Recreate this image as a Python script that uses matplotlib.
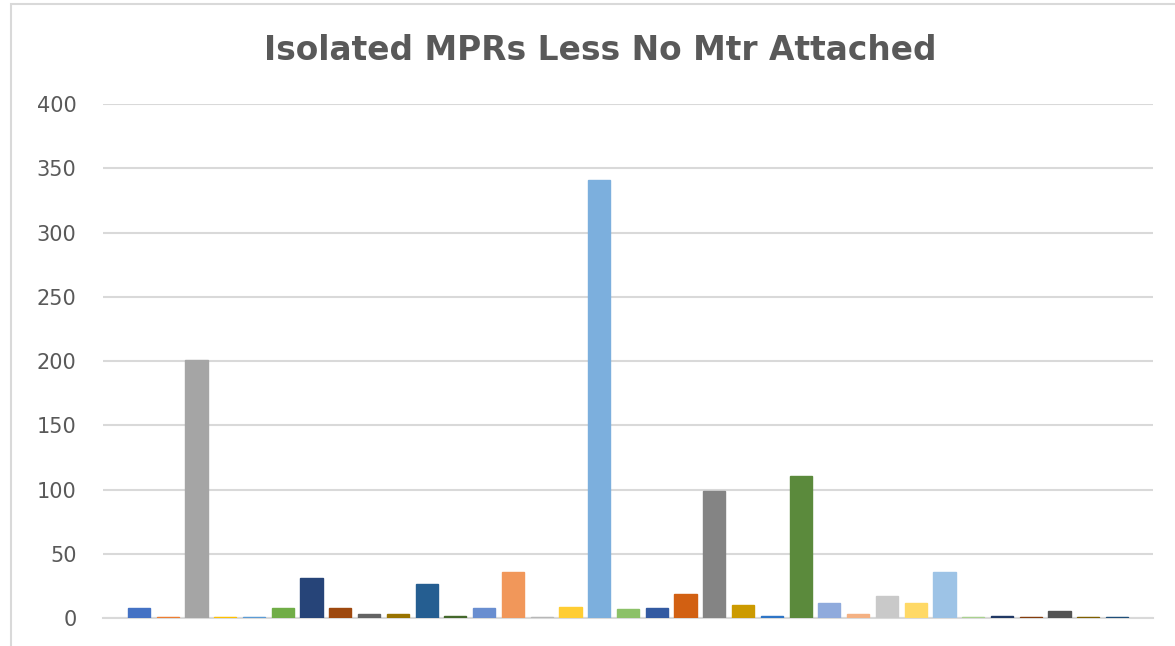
import numpy as np
import matplotlib
matplotlib.use("Agg")
import matplotlib.pyplot as plt
from matplotlib.patches import Rectangle

# one series per bar, like the Excel chart
valores = [8, 1, 201, 1, 1, 8, 31, 8, 3, 3, 27, 2,
           8, 36, 1, 9, 341, 7, 8, 19, 99, 10, 2, 111,
           12, 3, 17, 12, 36, 1, 2, 1, 6, 1, 1]

colores = ['#4472C4', '#ED7D31', '#A5A5A5', '#FFC000', '#5B9BD5', '#70AD47',
           '#264478', '#9E480E', '#636363', '#997300', '#255E91', '#43682B',
           '#698ED0', '#F1975A', '#B7B7B7', '#FFCD33', '#7CAFDD', '#8CC168',
           '#335AA1', '#D26012', '#848484', '#CC9A00', '#2E75C6', '#5B8A3C',
           '#8FAADC', '#F4B183', '#C9C9C9', '#FFD966', '#9DC3E6', '#A9D18E',
           '#203864', '#843C0C', '#525252', '#7F6000', '#1F4E79']

ticks_y = [0, 50, 100, 150, 200, 250, 300, 350, 400]
titulo = 'Isolated MPRs Less No Mtr Attached'

fig = plt.figure(figsize=(11.75, 6.46), dpi=100)
ax = fig.add_axes([103 / 1175, 1 - 618.3 / 646, 1050 / 1175, 514.3 / 646])

x = np.arange(len(valores))
ax.bar(x, valores, width=0.77, color=colores, edgecolor=colores, linewidth=1.0, zorder=3)

ax.set_xlim(-1.25, len(valores) - 1 + 1.25)
ax.set_ylim(0, 400)
ax.set_yticks(ticks_y)
ax.set_xticks([])
ax.grid(axis='y', color='#D9D9D9', linewidth=1.5, zorder=0)
for s in ['top', 'right', 'left']:
    ax.spines[s].set_visible(False)
ax.spines['bottom'].set_color('#D9D9D9')
ax.spines['bottom'].set_linewidth(1.5)
ax.spines['bottom'].set_zorder(1)
ax.tick_params(axis='y', length=0, pad=19, labelsize=15, labelcolor='#595959')

fig.text(600 / 1175, 1 - 51 / 646, titulo, ha='center', va='center',
         fontsize=23.7, fontweight='bold', color='#595959')

# marco del grafico
fig.patches.append(Rectangle((11 / 1175, -0.1), 1.2, 1 - 4 / 646 + 0.1,
                             transform=fig.transFigure, fill=False,
                             edgecolor='#D9D9D9', linewidth=1.5))

fig.savefig('out.png', dpi=100)
